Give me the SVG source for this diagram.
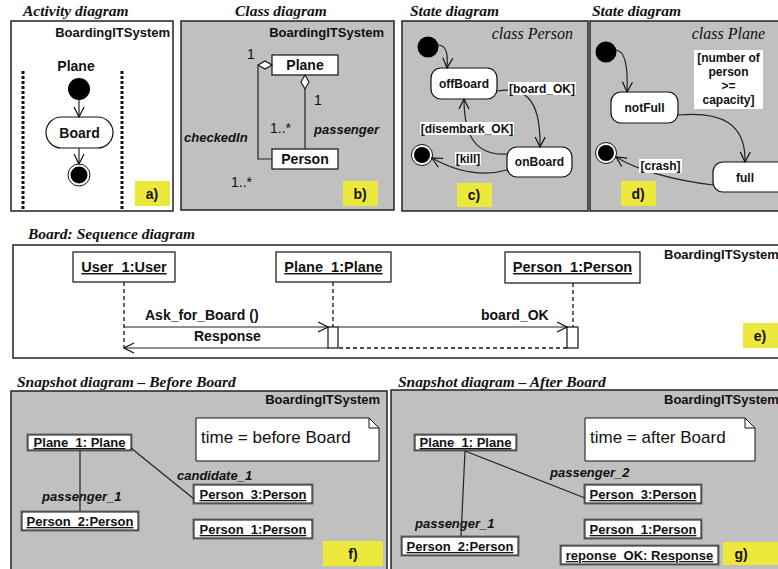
<svg xmlns="http://www.w3.org/2000/svg" width="778" height="569" viewBox="0 0 778 569">
  <defs>
    <style>
      .title { font-family: "Liberation Serif", "DejaVu Serif", serif; font-style: italic; font-weight: bold; font-size: 15.5px; fill: #111; }
      .cls { font-family: "Liberation Serif", "DejaVu Serif", serif; font-style: italic; font-size: 16px; fill: #111; }
      .sys { font-family: "Liberation Sans", Arial, sans-serif; font-weight: bold; font-size: 13px; fill: #111; }
      .b14 { font-family: "Liberation Sans", Arial, sans-serif; font-weight: bold; font-size: 14px; fill: #111; }
      .b12 { font-family: "Liberation Sans", Arial, sans-serif; font-weight: bold; font-size: 12px; fill: #111; }
      .num { font-family: "Liberation Sans", Arial, sans-serif; font-size: 14px; fill: #111; }
      .bi { font-family: "Liberation Sans", Arial, sans-serif; font-weight: bold; font-style: italic; font-size: 13px; fill: #111; }
      .obj { font-family: "Liberation Sans", Arial, sans-serif; font-weight: bold; font-size: 13px; fill: #111; text-decoration: underline; }
      .seq { font-family: "Liberation Sans", Arial, sans-serif; font-weight: bold; font-size: 14.5px; fill: #111; text-decoration: underline; }
      .note { font-family: "Liberation Sans", Arial, sans-serif; font-size: 17px; fill: #111; }
      .frame-w { fill: #ffffff; stroke: #222; stroke-width: 1.5; }
      .frame-g { fill: #c0c0c0; stroke: #222; stroke-width: 1.5; }
      .tag { fill: #ede83c; }
      .box { fill: #ffffff; stroke: #111; stroke-width: 1.2; }
      .state { fill: #ffffff; stroke: #111; stroke-width: 1.2; }
      .lbl { fill: #ffffff; }
      .edge { fill: none; stroke: #222; stroke-width: 1.2; }
      .dash { fill: none; stroke: #111; stroke-width: 1.3; stroke-dasharray: 4 3; }
      .lane { fill: none; stroke: #111; stroke-width: 3; stroke-dasharray: 3 2; }
      .objbox { fill: #ffffff; stroke: #111; stroke-width: 1; }
      .objshadow { fill: none; stroke: #666; stroke-width: 1; }
    </style>
    <marker id="open" viewBox="0 0 12 12" refX="11" refY="6" markerWidth="12" markerHeight="12" markerUnits="userSpaceOnUse" orient="auto">
      <polyline points="1,1 11,6 1,11" fill="none" stroke="#111" stroke-width="1.2"/>
    </marker>
  </defs>

  <!-- a) activity diagram -->
  <g id="panel-a">
    <text class="title" x="23" y="16">Activity diagram</text>
    <rect class="frame-w" x="11" y="21" width="162" height="190"/>
    <text class="sys" x="170" y="37" text-anchor="end">BoardingITSystem</text>
    <line class="lane" x1="23" y1="71" x2="23" y2="211"/>
    <line class="lane" x1="122" y1="71" x2="122" y2="211"/>
    <text class="b14" x="76" y="71" text-anchor="middle">Plane</text>
    <g id="a-start"><circle cx="79" cy="89" r="11" fill="#000"/></g>
    <g id="a-board">
      <rect class="state" x="46" y="117" width="67" height="31" rx="15.5"/>
      <text class="b14" x="79.5" y="138" text-anchor="middle">Board</text>
    </g>
    <g id="a-end">
      <circle cx="79" cy="175" r="11" fill="#fff" stroke="#111" stroke-width="1"/>
      <circle cx="79" cy="175" r="8.5" fill="#000"/>
    </g>
    <rect class="tag" x="135" y="181" width="35" height="25"/>
    <text class="b14" x="152" y="199" text-anchor="middle">a)</text>
  </g>

  <!-- b) class diagram -->
  <g id="panel-b">
    <text class="title" x="235" y="16">Class diagram</text>
    <rect class="frame-g" x="181" y="21" width="213" height="189"/>
    <text class="sys" x="384" y="37" text-anchor="end">BoardingITSystem</text>
    <g id="b-plane">
      <rect class="box" x="272" y="55" width="66" height="20"/>
      <text class="b14" x="305" y="70" text-anchor="middle">Plane</text>
    </g>
    <g id="b-person">
      <rect class="box" x="272" y="149" width="66" height="20"/>
      <text class="b14" x="305" y="164" text-anchor="middle">Person</text>
    </g>
    <text class="num" x="247" y="59">1</text>
    <text class="num" x="314" y="105">1</text>
    <text class="num" x="270" y="133">1..*</text>
    <text class="num" x="231" y="187">1..*</text>
    <text class="bi" x="314" y="134">passenger</text>
    <text class="bi" x="184" y="142">checkedIn</text>
    <rect class="tag" x="343" y="181" width="35" height="25"/>
    <text class="b14" x="360" y="199" text-anchor="middle">b)</text>
  </g>

  <!-- c) state diagram of Person -->
  <g id="panel-c">
    <text class="title" x="410" y="16">State diagram</text>
    <rect class="frame-g" x="402" y="21" width="186" height="190"/>
    <text class="cls" x="573" y="39" text-anchor="end">class Person</text>
    <g id="c-start"><circle cx="428" cy="47" r="10.5" fill="#000"/></g>
    <g id="c-offboard">
      <rect class="state" x="431" y="68" width="66" height="31" rx="10"/>
      <text class="b12" x="464" y="88" text-anchor="middle">offBoard</text>
    </g>
    <g id="c-onboard">
      <rect class="state" x="507" y="147" width="65" height="30" rx="10"/>
      <text class="b12" x="539.5" y="166" text-anchor="middle">onBoard</text>
    </g>
    <g id="c-end">
      <circle cx="422" cy="155" r="10.5" fill="#fff" stroke="#111" stroke-width="1"/>
      <circle cx="422" cy="155" r="8" fill="#000"/>
    </g>
    <rect class="tag" x="457" y="183" width="35" height="24"/>
    <text class="b14" x="474" y="200" text-anchor="middle">c)</text>
  </g>

  <!-- d) state diagram of Plane -->
  <g id="panel-d">
    <text class="title" x="592" y="16">State diagram</text>
    <rect class="frame-g" x="590" y="21" width="200" height="190"/>
    <text class="cls" x="765" y="39" text-anchor="end">class Plane</text>
    <g id="d-start"><circle cx="606" cy="52" r="10.5" fill="#000"/></g>
    <g id="d-notfull">
      <rect class="state" x="611" y="92" width="67" height="31" rx="10"/>
      <text class="b12" x="644.5" y="112" text-anchor="middle">notFull</text>
    </g>
    <g id="d-full">
      <rect class="state" x="713" y="162" width="75" height="30" rx="10"/>
      <text class="b12" x="745" y="182" text-anchor="middle">full</text>
    </g>
    <g id="d-end">
      <circle cx="606" cy="153" r="10.5" fill="#fff" stroke="#111" stroke-width="1"/>
      <circle cx="606" cy="153" r="8" fill="#000"/>
    </g>
    <rect class="tag" x="621" y="181" width="35" height="25"/>
    <text class="b14" x="638" y="199" text-anchor="middle">d)</text>
  </g>

  <!-- e) sequence diagram -->
  <g id="panel-e">
    <text class="title" x="28" y="239">Board: Sequence diagram</text>
    <rect class="frame-w" x="13" y="245" width="790" height="113"/>
    <text class="sys" x="664" y="259">BoardingITSystem</text>
    <g id="e-user">
      <rect class="box" x="73" y="252" width="102" height="30"/>
      <text class="seq" x="124" y="272" text-anchor="middle">User_1:User</text>
    </g>
    <g id="e-plane">
      <rect class="box" x="276" y="252" width="115" height="30"/>
      <text class="seq" x="333.5" y="272" text-anchor="middle">Plane_1:Plane</text>
    </g>
    <g id="e-person">
      <rect class="box" x="505" y="252" width="135" height="31"/>
      <text class="seq" x="572.5" y="272" text-anchor="middle">Person_1:Person</text>
    </g>
    <rect class="box" x="328" y="327" width="10" height="21"/>
    <rect class="box" x="567" y="327" width="11" height="21"/>
    <text class="b14" x="145" y="320">Ask_for_Board ()</text>
    <text class="b14" x="194" y="341">Response</text>
    <text class="b14" x="481" y="320">board_OK</text>
    <rect class="tag" x="743" y="323" width="45" height="25"/>
    <text class="b14" x="760" y="341" text-anchor="middle">e)</text>
  </g>

  <!-- f) snapshot before boarding -->
  <g id="panel-f">
    <text class="title" x="17" y="387">Snapshot diagram – Before Board</text>
    <rect class="frame-g" x="11" y="391" width="376" height="190"/>
    <text class="sys" x="380" y="404" text-anchor="end">BoardingITSystem</text>
    <g id="f-note">
      <path d="M196,418 H369 L379,428 V461 H196 Z" fill="#fff" stroke="#111" stroke-width="1"/>
      <path d="M369,418 V428 H379" fill="none" stroke="#111" stroke-width="1"/>
      <text class="note" x="201" y="443">time = before Board</text>
    </g>
    <g id="f-plane1">
      <rect class="objshadow" x="27" y="434" width="105" height="17"/>
      <rect class="objbox" x="28" y="435" width="103" height="15"/>
      <text class="obj" x="79.5" y="447" text-anchor="middle">Plane_1: Plane</text>
    </g>
    <g id="f-person3">
      <rect class="objshadow" x="193" y="484" width="120" height="20"/>
      <rect class="objbox" x="194" y="485" width="118" height="18"/>
      <text class="obj" x="253" y="499" text-anchor="middle">Person_3:Person</text>
    </g>
    <g id="f-person2">
      <rect class="objshadow" x="21" y="511" width="118" height="20"/>
      <rect class="objbox" x="22" y="512" width="116" height="18"/>
      <text class="obj" x="80" y="526" text-anchor="middle">Person_2:Person</text>
    </g>
    <g id="f-person1">
      <rect class="objshadow" x="193" y="519" width="120" height="20"/>
      <rect class="objbox" x="194" y="520" width="118" height="18"/>
      <text class="obj" x="253" y="534" text-anchor="middle">Person_1:Person</text>
    </g>
    <text class="bi" x="42" y="501">passenger_1</text>
    <text class="bi" x="177" y="480">candidate_1</text>
    <rect class="tag" x="323" y="541" width="60" height="25"/>
    <text class="b14" x="353" y="559" text-anchor="middle">f)</text>
  </g>

  <!-- g) snapshot after boarding -->
  <g id="panel-g">
    <text class="title" x="398" y="387">Snapshot diagram – After Board</text>
    <rect class="frame-g" x="391" y="390" width="400" height="190"/>
    <text class="sys" x="664" y="404">BoardingITSystem</text>
    <g id="g-note">
      <path d="M585,418 H745 L755,428 V461 H585 Z" fill="#fff" stroke="#111" stroke-width="1"/>
      <path d="M745,418 V428 H755" fill="none" stroke="#111" stroke-width="1"/>
      <text class="note" x="590" y="443">time = after Board</text>
    </g>
    <g id="g-plane1">
      <rect class="objshadow" x="414" y="434" width="103" height="17"/>
      <rect class="objbox" x="415" y="435" width="101" height="15"/>
      <text class="obj" x="465.5" y="447" text-anchor="middle">Plane_1: Plane</text>
    </g>
    <g id="g-person3">
      <rect class="objshadow" x="584" y="484" width="118" height="20"/>
      <rect class="objbox" x="585" y="485" width="116" height="18"/>
      <text class="obj" x="643" y="499" text-anchor="middle">Person_3:Person</text>
    </g>
    <g id="g-person1">
      <rect class="objshadow" x="584" y="519" width="118" height="20"/>
      <rect class="objbox" x="585" y="520" width="116" height="18"/>
      <text class="obj" x="643" y="534" text-anchor="middle">Person_1:Person</text>
    </g>
    <g id="g-person2">
      <rect class="objshadow" x="401" y="536" width="118" height="20"/>
      <rect class="objbox" x="402" y="537" width="116" height="18"/>
      <text class="obj" x="460" y="551" text-anchor="middle">Person_2:Person</text>
    </g>
    <g id="g-response">
      <rect class="objshadow" x="560" y="545" width="159" height="20"/>
      <rect class="objbox" x="561" y="546" width="157" height="18"/>
      <text class="obj" x="639.5" y="560" text-anchor="middle">reponse_OK: Response</text>
    </g>
    <text class="bi" x="550" y="477">passenger_2</text>
    <text class="bi" x="415" y="528">passenger_1</text>
    <rect class="tag" x="723" y="542" width="60" height="23"/>
    <text class="b14" x="741" y="559" text-anchor="middle">g)</text>
  </g>

  <!-- connectors -->
  <g id="connectors">
    <!-- activity -->
    <line class="edge" x1="79" y1="100" x2="79" y2="117" marker-end="url(#open)"/>
    <line class="edge" x1="79" y1="148" x2="79" y2="164" marker-end="url(#open)"/>
    <!-- class associations -->
    <polyline class="edge" points="258,65 258,159 272,159" stroke-width="1.5"/>
    <line class="edge" x1="305" y1="89" x2="305" y2="149" stroke-width="1.5"/>
    <polygon points="272,65 265,61 258,65 265,69" fill="#fff" stroke="#111" stroke-width="1.1"/>
    <polygon points="305,75 309,82 305,89 301,82" fill="#fff" stroke="#111" stroke-width="1.1"/>
    <!-- Person states -->
    <path class="edge" d="M438,45 C447,45 448,55 447,68" marker-end="url(#open)"/>
    <path class="edge" d="M497,91 C522,87 541,95 540,147" marker-end="url(#open)"/>
    <path class="edge" d="M507,154 C475,156 464,135 464,99" marker-end="url(#open)"/>
    <path class="edge" d="M507,170 C482,177 457,172 432,158" marker-end="url(#open)"/>
    <rect class="lbl" x="508" y="82" width="68" height="13"/>
    <text class="b12" x="542" y="93" text-anchor="middle">[board_OK]</text>
    <rect class="lbl" x="420" y="122" width="94" height="13"/>
    <text class="b12" x="467" y="133" text-anchor="middle">[disembark_OK]</text>
    <rect class="lbl" x="455" y="152" width="26" height="13"/>
    <text class="b12" x="468" y="163" text-anchor="middle">[kill]</text>
    <!-- Plane states -->
    <path class="edge" d="M616,50 C626,51 628,70 627,92" marker-end="url(#open)"/>
    <path class="edge" d="M678,115 C722,111 746,124 745,162" marker-end="url(#open)"/>
    <path class="edge" d="M713,185 C680,181 640,172 616,157" marker-end="url(#open)"/>
    <rect class="lbl" x="694" y="50" width="69" height="59"/>
    <text class="b12" x="728.5" y="62" text-anchor="middle">[number of</text>
    <text class="b12" x="728.5" y="76" text-anchor="middle">person</text>
    <text class="b12" x="728.5" y="90" text-anchor="middle">&gt;=</text>
    <text class="b12" x="728.5" y="104" text-anchor="middle">capacity]</text>
    <rect class="lbl" x="639" y="159" width="43" height="14"/>
    <text class="b12" x="660.5" y="170" text-anchor="middle">[crash]</text>
    <!-- sequence lifelines and messages -->
    <line class="dash" x1="124" y1="282" x2="124" y2="348"/>
    <line class="dash" x1="333" y1="282" x2="333" y2="327"/>
    <line class="dash" x1="573" y1="283" x2="573" y2="327"/>
    <line class="edge" x1="124" y1="327" x2="328" y2="327" marker-end="url(#open)"/>
    <line class="edge" x1="328" y1="348" x2="124" y2="348" marker-end="url(#open)"/>
    <line class="edge" x1="338" y1="327" x2="567" y2="327" marker-end="url(#open)"/>
    <line class="dash" x1="567" y1="348" x2="338" y2="348"/>
    <!-- snapshot links -->
    <line class="edge" x1="80" y1="451" x2="80" y2="511" stroke-width="1.5"/>
    <line class="edge" x1="131" y1="448" x2="194" y2="499" stroke-width="1"/>
    <line class="edge" x1="465" y1="451" x2="461" y2="536" stroke-width="1.2"/>
    <line class="edge" x1="465" y1="451" x2="585" y2="498" stroke-width="1.2"/>
  </g>
</svg>
